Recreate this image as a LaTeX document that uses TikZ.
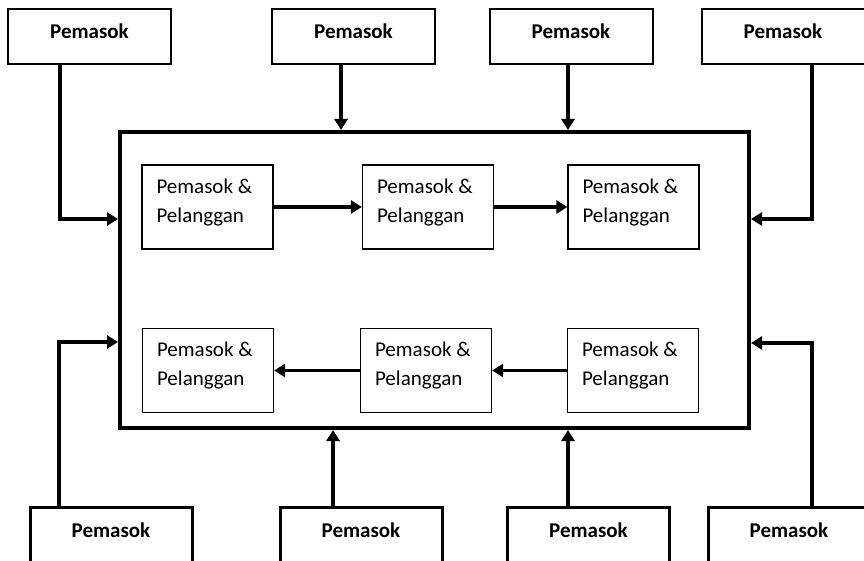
\documentclass[tikz,border=0pt]{standalone}
\usepackage{fontspec}
\setmainfont{Carlito}
\usetikzlibrary{arrows.meta}
\begin{document}
\begin{tikzpicture}[x=1pt,y=-1pt,
  sup/.style={draw, line width=2pt, minimum width=163pt, minimum height=55pt, inner sep=0pt,
    font=\fontsize{21}{25}\selectfont\bfseries, text height=15pt, text depth=10pt},
  bsup/.style={draw, line width=3pt, minimum width=162pt, minimum height=68pt, inner sep=0pt,
    font=\fontsize{21}{25}\selectfont\bfseries, text height=15pt, text depth=23pt},
  mainbox/.style={draw, line width=4pt, minimum width=629pt, minimum height=296pt},
  pp/.style={draw, line width=1.3pt, minimum width=131pt, minimum height=84pt, inner sep=0pt},
  lbl/.style={anchor=north west, inner sep=0pt, align=left,
    font=\fontsize{21}{29}\selectfont, xshift=15pt, yshift=-14pt},
  conn/.style={line width=3.3pt, -{Triangle[length=11pt,width=13pt]}}]
\useasboundingbox (0,0) rectangle (864,561);
\clip (0,0) rectangle (864,561);
% outer suppliers
\node[sup] (t1) at (89.5,36.5) {Pemasok};
\node[sup] (t2) at (353.5,36.5) {Pemasok};
\node[sup] (t3) at (571,36.5) {Pemasok};
\node[sup] (t4) at (783,36.5) {Pemasok};
\node[bsup] (b1) at (111,541) {Pemasok};
\node[bsup] (b2) at (361,541) {Pemasok};
\node[bsup] (b3) at (588.5,541) {Pemasok};
\node[bsup] (b4) at (789,541) {Pemasok};
% main box
\node[mainbox] (m) at (434.5,280) {};
% inner boxes
\node[pp, label={[lbl]north west:{Pemasok \&\\Pelanggan}}] (a) at (207.5,207) {};
\node[pp, label={[lbl]north west:{Pemasok \&\\Pelanggan}}] (b) at (428,207) {};
\node[pp, label={[lbl]north west:{Pemasok \&\\Pelanggan}}] (c) at (633.5,207) {};
\node[pp, label={[lbl]north west:{Pemasok \&\\Pelanggan}}] (d) at (208,370.5) {};
\node[pp, label={[lbl]north west:{Pemasok \&\\Pelanggan}}] (e) at (426,370.5) {};
\node[pp, label={[lbl]north west:{Pemasok \&\\Pelanggan}}] (f) at (633,370.5) {};
% inner arrows
\draw[conn] (a.east) -- (b.west);
\draw[conn] (b.east) -- (c.west);
\draw[conn] (f.west) -- (e.east);
\draw[conn] (e.west) -- (d.east);
% outer connectors
\coordinate (k1) at (60,219);
\draw[conn] (t1.south -| k1) |- (m.west |- k1);
\draw[conn] ([xshift=-12.5pt]t2.south) -- ([xshift=-12.5pt]t2.south |- m.north);
\draw[conn] ([xshift=-3pt]t3.south) -- ([xshift=-3pt]t3.south |- m.north);
\coordinate (k4) at (812,219);
\draw[conn] (t4.south -| k4) |- (m.east |- k4);
\coordinate (k5) at (59,342);
\draw[conn] (b1.north -| k5) |- (m.west |- k5);
\draw[conn] ([xshift=-28pt]b2.north) -- ([xshift=-28pt]b2.north |- m.south);
\draw[conn] ([xshift=-20.5pt]b3.north) -- ([xshift=-20.5pt]b3.north |- m.south);
\coordinate (k8) at (812,343);
\draw[conn] (b4.north -| k8) |- (m.east |- k8);
\end{tikzpicture}
\end{document}
